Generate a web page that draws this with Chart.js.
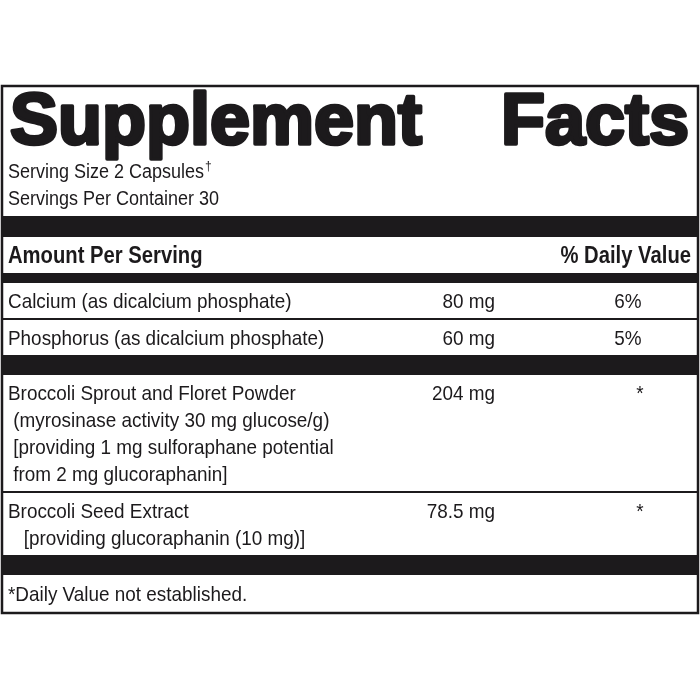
<!DOCTYPE html>
<html>
<head>
<script src="https://cdn.jsdelivr.net/npm/chart.js@4.4.0/dist/chart.umd.min.js"></script>
<style>
html, body { margin: 0; padding: 0; background: #fff; }
#wrap { width: 700px; height: 700px; }
</style>
</head>
<body>
<div id="wrap"><canvas id="label" width="700" height="700"></canvas></div>
<script>
// label contents
var title = ["Supplement", "Facts"];
var servingLines = ["Serving Size 2 Capsules", "Servings Per Container 30"];
var headers = ["Amount Per Serving", "% Daily Value"];
var ingredientNames = [
  ["Calcium (as dicalcium phosphate)"],
  ["Phosphorus (as dicalcium phosphate)"],
  ["Broccoli Sprout and Floret Powder", " (myrosinase activity 30 mg glucose/g)", " [providing 1 mg sulforaphane potential", " from 2 mg glucoraphanin]"],
  ["Broccoli Seed Extract", "   [providing glucoraphanin (10 mg)]"]
];
var amounts = ["80 mg", "60 mg", "204 mg", "78.5 mg"];
var dailyValues = ["6%", "5%", "*", "*"];
// separator after each row: thin line or thick bar
var separators = ["thin", "thick", "thin", "thick"];
var footnote = "*Daily Value not established.";

var FONT = '"Liberation Sans", Arial, sans-serif';

// draw text squeezed horizontally a bit, like a condensed face
function txt(c, s, x, y, sx) {
  c.save();
  c.translate(x, y);
  c.scale(sx, 1);
  c.fillText(s, 0, 0);
  c.restore();
}

var labelPlugin = {
  id: 'factsLabel',
  afterDraw: function(chart) {
    var c = chart.ctx;
    var sx = 0.9;
    c.save();
    c.fillStyle = '#1c1a1c';
    c.strokeStyle = '#1c1a1c';
    c.lineWidth = 2.5;
    c.strokeRect(2, 86, 696, 527);
    // title, heavy
    c.font = 'bold 72px "Liberation Sans", Arial, sans-serif';
    c.lineWidth = 3.5;
    c.lineJoin = 'round';
    c.textAlign = 'left';
    c.fillText(title[0], 10, 144, 426);
    c.strokeText(title[0], 10, 144, 426);
    c.textAlign = 'right';
    c.fillText(title[1], 689, 144, 218);
    c.strokeText(title[1], 689, 144, 218);
    // serving info
    c.textAlign = 'left';
    c.font = '20px ' + FONT;
    txt(c, servingLines[0], 8, 178, sx);
    var w = c.measureText(servingLines[0]).width * sx;
    c.font = '12px ' + FONT;
    c.fillText('\u2020', 8 + w + 1, 170);
    c.font = '20px ' + FONT;
    txt(c, servingLines[1], 8, 205, sx);
    // thick bar
    c.fillRect(2, 216, 696, 21);
    // headers
    c.font = 'bold 23px ' + FONT;
    txt(c, headers[0], 8, 263, 0.88);
    var hw = c.measureText(headers[1]).width * 0.88;
    txt(c, headers[1], 691 - hw, 263, 0.88);
    c.fillRect(2, 273, 696, 10);
    // rows
    var y = 283;
    var lh = 27;
    c.font = '21px ' + FONT;
    for (var i = 0; i < ingredientNames.length; i++) {
      var top = y;
      for (var j = 0; j < ingredientNames[i].length; j++) {
        txt(c, ingredientNames[i][j], 8, top + 25 + j * lh, sx);
      }
      var aw = c.measureText(amounts[i]).width * sx;
      txt(c, amounts[i], 495 - aw, top + 25, sx);
      var dw = c.measureText(dailyValues[i]).width * sx;
      var cx = dailyValues[i] === '*' ? 640 : 628;
      txt(c, dailyValues[i], cx - dw / 2, top + 25, sx);
      y = top + 8 + ingredientNames[i].length * lh;
      if (separators[i] === 'thin') {
        c.fillRect(2, y, 696, 2);
        y += 2;
      } else {
        c.fillRect(2, y, 696, 20);
        y += 20;
      }
    }
    txt(c, footnote, 8, y + 26, sx);
    c.restore();
  }
};

new Chart(document.getElementById('label').getContext('2d'), {
  type: 'scatter',
  data: { datasets: [{ data: [] }] },
  options: {
    responsive: false,
    animation: false,
    plugins: { legend: { display: false }, tooltip: { enabled: false } },
    scales: { x: { display: false }, y: { display: false } }
  },
  plugins: [labelPlugin]
});
</script>
</body>
</html>
